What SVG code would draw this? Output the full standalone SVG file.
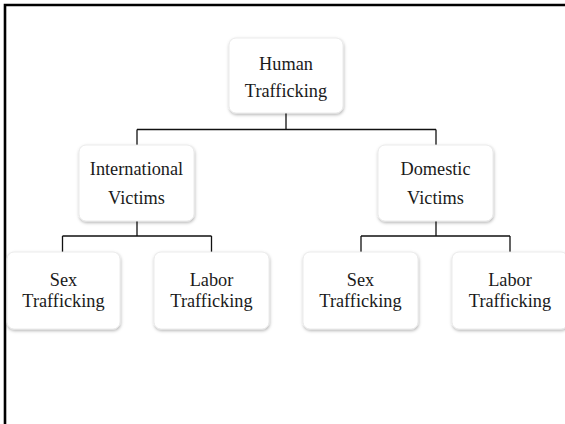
<svg xmlns="http://www.w3.org/2000/svg" width="565" height="424" viewBox="0 0 565 424">
<defs>
<filter id="sh" x="-20%" y="-20%" width="140%" height="150%">
<feDropShadow dx="0.5" dy="1.5" stdDeviation="1.5" flood-color="#000" flood-opacity="0.3"/>
</filter>
<style>
.box{fill:#fff;stroke:#e6e6e6;stroke-width:0.8;filter:url(#sh)}
.t{font-family:"Liberation Serif","DejaVu Serif",serif;font-size:18.3px;fill:#1a1a1a;text-anchor:middle}
.c{fill:none;stroke:#111;stroke-width:1.3}
</style>
</defs>
<rect width="565" height="424" fill="#fff"/>
<path d="M5,424 V5 H565" fill="none" stroke="#000" stroke-width="2.6"/>
<g id="connectors">
<path class="c" d="M286,113 V129.5 M137,129.5 H436 M137,129.5 V145 M436,129.5 V145"/>
<path class="c" d="M137,221 V236 M62.5,236 H211.5 M62.5,236 V252 M211.5,236 V252"/>
<path class="c" d="M436,221 V236 M361,236 H510 M361,236 V252 M510,236 V252"/>
</g>
<g id="human">
<rect class="box" x="229" y="38" width="114" height="75" rx="7"/>
<text class="t" x="286" y="70">Human</text>
<text class="t" x="286" y="97">Trafficking</text>
</g>
<g id="international">
<rect class="box" x="79" y="145" width="115" height="76" rx="7"/>
<text class="t" x="136.5" y="175">International</text>
<text class="t" x="136.5" y="204">Victims</text>
</g>
<g id="domestic">
<rect class="box" x="378" y="145" width="115" height="76" rx="7"/>
<text class="t" x="435.5" y="175">Domestic</text>
<text class="t" x="435.5" y="204">Victims</text>
</g>
<g id="sex1">
<rect class="box" x="7" y="252" width="113" height="77" rx="7"/>
<text class="t" x="63.5" y="285.5">Sex</text>
<text class="t" x="63.5" y="307">Trafficking</text>
</g>
<g id="labor1">
<rect class="box" x="154" y="252" width="115" height="77" rx="7"/>
<text class="t" x="211.5" y="285.5">Labor</text>
<text class="t" x="211.5" y="307">Trafficking</text>
</g>
<g id="sex2">
<rect class="box" x="303" y="252" width="115" height="77" rx="7"/>
<text class="t" x="360.5" y="285.5">Sex</text>
<text class="t" x="360.5" y="307">Trafficking</text>
</g>
<g id="labor2">
<rect class="box" x="452" y="252" width="116" height="77" rx="7"/>
<text class="t" x="510" y="285.5">Labor</text>
<text class="t" x="510" y="307">Trafficking</text>
</g>
</svg>
